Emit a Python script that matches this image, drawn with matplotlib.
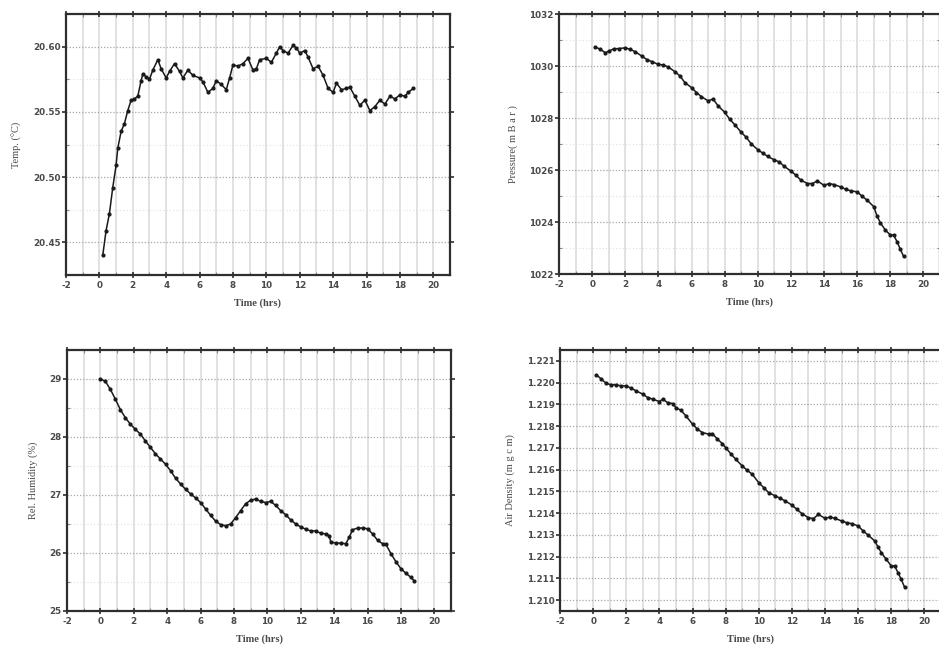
import numpy as np
import matplotlib
matplotlib.use("Agg")
import matplotlib.pyplot as plt
from matplotlib.ticker import MultipleLocator, FormatStrFormatter
from matplotlib.font_manager import FontProperties

# ---- data -----------------------------------------------------------
temp_t = [0.2, 0.4, 0.6, 0.8, 1.0, 1.1, 1.3, 1.5, 1.7, 1.9, 2.1, 2.3, 2.5, 2.6,
          2.8, 3.0, 3.2, 3.5, 3.7, 4.0, 4.2, 4.5, 4.8, 5.0, 5.3, 5.6, 6.0, 6.2,
          6.5, 6.8, 7.0, 7.3, 7.6, 7.8, 8.0, 8.3, 8.6, 8.9, 9.2, 9.4, 9.6, 10.0,
          10.3, 10.6, 10.8, 11.0, 11.3, 11.6, 11.8, 12.0, 12.3, 12.5, 12.8,
          13.1, 13.4, 13.7, 14.0, 14.2, 14.5, 14.8, 15.0, 15.3, 15.6, 15.9,
          16.2, 16.5, 16.8, 17.1, 17.4, 17.7, 18.0, 18.3, 18.5, 18.8]
temp_c = [20.440, 20.459, 20.472, 20.492, 20.509, 20.522, 20.535, 20.541,
          20.551, 20.559, 20.560, 20.562, 20.574, 20.579, 20.577, 20.575,
          20.582, 20.590, 20.583, 20.576, 20.581, 20.587, 20.581, 20.576,
          20.582, 20.578, 20.576, 20.573, 20.565, 20.568, 20.574, 20.571,
          20.567, 20.576, 20.586, 20.585, 20.587, 20.591, 20.582, 20.583,
          20.590, 20.591, 20.588, 20.595, 20.600, 20.597, 20.595, 20.601,
          20.599, 20.595, 20.597, 20.592, 20.583, 20.585, 20.578, 20.568,
          20.565, 20.572, 20.567, 20.568, 20.569, 20.562, 20.555, 20.559,
          20.551, 20.554, 20.559, 20.556, 20.562, 20.560, 20.563, 20.562,
          20.565, 20.568]

pres_t = [0.2, 0.5, 0.8, 1.0, 1.3, 1.6, 2.0, 2.3, 2.6, 3.0, 3.3, 3.6, 4.0, 4.3,
          4.6, 5.0, 5.3, 5.6, 6.0, 6.3, 6.6, 7.0, 7.3, 7.6, 8.0, 8.3, 8.6, 9.0,
          9.3, 9.6, 10.0, 10.3, 10.6, 11.0, 11.3, 11.6, 12.0, 12.3, 12.6, 13.0,
          13.3, 13.6, 14.0, 14.3, 14.6, 15.0, 15.3, 15.6, 16.0, 16.3, 16.6,
          17.0, 17.2, 17.4, 17.7, 18.0, 18.2, 18.4, 18.6, 18.8]
pres_mbar = [1030.73, 1030.64, 1030.51, 1030.57, 1030.66, 1030.67, 1030.70,
             1030.64, 1030.55, 1030.38, 1030.25, 1030.17, 1030.06, 1030.04,
             1029.96, 1029.78, 1029.62, 1029.36, 1029.17, 1028.98, 1028.82,
             1028.66, 1028.73, 1028.47, 1028.22, 1027.96, 1027.75, 1027.45,
             1027.26, 1027.01, 1026.78, 1026.65, 1026.52, 1026.39, 1026.31,
             1026.14, 1025.96, 1025.80, 1025.61, 1025.48, 1025.48, 1025.58,
             1025.41, 1025.48, 1025.44, 1025.35, 1025.26, 1025.20, 1025.16,
             1024.99, 1024.84, 1024.59, 1024.23, 1023.97, 1023.69, 1023.50,
             1023.50, 1023.25, 1022.96, 1022.68]

hum_t = [0.0, 0.3, 0.6, 0.9, 1.2, 1.5, 1.8, 2.1, 2.4, 2.7, 3.0, 3.3, 3.6, 3.9,
         4.2, 4.5, 4.8, 5.1, 5.4, 5.7, 6.0, 6.3, 6.6, 6.9, 7.2, 7.5, 7.8, 8.1,
         8.4, 8.7, 9.0, 9.3, 9.6, 9.9, 10.2, 10.5, 10.8, 11.1, 11.4, 11.7,
         12.0, 12.3, 12.6, 12.9, 13.2, 13.5, 13.7, 13.8, 14.1, 14.4, 14.7,
         14.9, 15.1, 15.4, 15.7, 16.0, 16.3, 16.6, 16.9, 17.1, 17.4, 17.7,
         18.0, 18.3, 18.6, 18.8]
hum_pct = [29.00, 28.96, 28.82, 28.65, 28.47, 28.33, 28.22, 28.13, 28.05,
           27.93, 27.82, 27.71, 27.62, 27.53, 27.42, 27.29, 27.19, 27.10,
           27.02, 26.95, 26.87, 26.76, 26.65, 26.55, 26.49, 26.47, 26.50,
           26.61, 26.73, 26.85, 26.91, 26.93, 26.89, 26.87, 26.89, 26.82,
           26.73, 26.66, 26.57, 26.50, 26.45, 26.41, 26.38, 26.38, 26.34,
           26.33, 26.30, 26.19, 26.17, 26.17, 26.16, 26.27, 26.40, 26.43,
           26.43, 26.42, 26.33, 26.22, 26.16, 26.15, 25.99, 25.85, 25.73,
           25.65, 25.58, 25.52]

dens_t = [0.2, 0.5, 0.8, 1.1, 1.4, 1.7, 2.0, 2.3, 2.6, 3.0, 3.3, 3.6, 4.0, 4.2,
          4.5, 4.8, 5.0, 5.3, 5.6, 6.0, 6.3, 6.6, 7.0, 7.2, 7.5, 7.8, 8.0, 8.3,
          8.6, 9.0, 9.3, 9.6, 10.0, 10.3, 10.6, 11.0, 11.3, 11.6, 12.0, 12.3,
          12.6, 13.0, 13.3, 13.6, 14.0, 14.3, 14.6, 15.0, 15.3, 15.6, 16.0,
          16.3, 16.6, 17.0, 17.2, 17.4, 17.7, 18.0, 18.2, 18.4, 18.6, 18.8]
dens_val = [1.22036, 1.22016, 1.21996, 1.21990, 1.21990, 1.21985, 1.21985,
            1.21974, 1.21962, 1.21947, 1.21931, 1.21924, 1.21913, 1.21924,
            1.21908, 1.21904, 1.21885, 1.21873, 1.21847, 1.21809, 1.21786,
            1.21770, 1.21763, 1.21766, 1.21740, 1.21720, 1.21701, 1.21674,
            1.21648, 1.21617, 1.21597, 1.21579, 1.21540, 1.21517, 1.21494,
            1.21479, 1.21468, 1.21456, 1.21437, 1.21417, 1.21398, 1.21379,
            1.21375, 1.21394, 1.21376, 1.21382, 1.21376, 1.21364, 1.21356,
            1.21352, 1.21341, 1.21318, 1.21299, 1.21272, 1.21244, 1.21218,
            1.21187, 1.21157, 1.21157, 1.21127, 1.21095, 1.21060]

x_label = "Time (hrs)"

# ---- styling ----------------------------------------------------------
TEXT = "#4a4a4a"
SPINE = "#2e2e2e"
GRID = "#dedede"
TICK_FP = FontProperties(family="DejaVu Sans", weight="bold", size=6.3)
LABEL_FONT = dict(family="Liberation Serif", size=7.5)

fig = plt.figure(figsize=(9.39, 6.54), dpi=100)
W, H = 939.0, 654.0


def make_axes(left, top, right, bottom):
    return fig.add_axes([left / W, 1 - bottom / H, (right - left) / W,
                         (bottom - top) / H])


def style(ax, ylim, ymajor, yminor, yfmt, ylabel):
    ax.set_xlim(-2, 21)
    ax.set_ylim(*ylim)
    ax.xaxis.set_major_locator(MultipleLocator(2))
    ax.xaxis.set_minor_locator(MultipleLocator(1))
    ax.yaxis.set_major_locator(MultipleLocator(ymajor))
    if yminor:
        ax.yaxis.set_minor_locator(MultipleLocator(yminor))
    ax.yaxis.set_major_formatter(FormatStrFormatter(yfmt))
    ax.xaxis.set_major_formatter(FormatStrFormatter("%d"))

    # light vertical rules at every hour, dotted horizontal rules
    ax.grid(True, axis="x", which="both", color=GRID, lw=1.3, ls="-")
    ax.grid(True, axis="y", which="major", color="#a8a8a8", lw=0.9,
            ls=(0, (1, 1.5)))
    ax.grid(True, axis="y", which="minor", color="#e0e0e0", lw=0.8,
            ls=(0, (1, 2)))
    ax.set_axisbelow(True)

    for s in ax.spines.values():
        s.set_color(SPINE)
        s.set_linewidth(1.6)

    ax.tick_params(axis="x", which="major", direction="inout", length=5,
                   width=1.2, color=SPINE, top=True, pad=2)
    ax.tick_params(axis="x", which="minor", direction="in", length=2,
                   width=0.8, color="#888888", top=True)
    ax.tick_params(axis="y", which="major", direction="out", length=3,
                   width=1.2, color=SPINE, right=True, pad=1)
    ax.tick_params(axis="y", which="minor", direction="in", length=2,
                   width=0.8, color="#888888", right=True)
    for lab in ax.get_xticklabels() + ax.get_yticklabels():
        lab.set_fontproperties(TICK_FP)
        lab.set_color(TEXT)

    ax.set_xlabel(x_label, fontdict=dict(family="Liberation Serif",
                                         weight="bold", size=7.5),
                  color=TEXT, labelpad=6)
    ax.set_ylabel(ylabel, fontdict=LABEL_FONT, color=TEXT, labelpad=8)


def draw(ax, t, v):
    ax.plot(t, v, color="#1a1a1a", lw=1.1, marker="o", ms=2.0,
            mec="#1a1a1a", mfc="#1a1a1a", zorder=3)


ax1 = make_axes(66, 14, 450, 275)
draw(ax1, temp_t, temp_c)
style(ax1, (20.425, 20.625), 0.05, 0.025, "%.2f", "Temp. (°C)")

ax2 = make_axes(559, 14, 940, 274)
draw(ax2, pres_t, pres_mbar)
style(ax2, (1022, 1032), 2, 1, "%d", "Pressure( m B a r )")

ax3 = make_axes(67, 350, 451, 611)
draw(ax3, hum_t, hum_pct)
style(ax3, (25, 29.5), 1, 0.5, "%d", "Rel. Humidity (%)")

ax4 = make_axes(560, 350, 941, 611)
draw(ax4, dens_t, dens_val)
style(ax4, (1.2095, 1.2215), 0.001, None, "%.3f", "Air Density (m g c m)")

fig.savefig("out.png", dpi=100, facecolor="white")
